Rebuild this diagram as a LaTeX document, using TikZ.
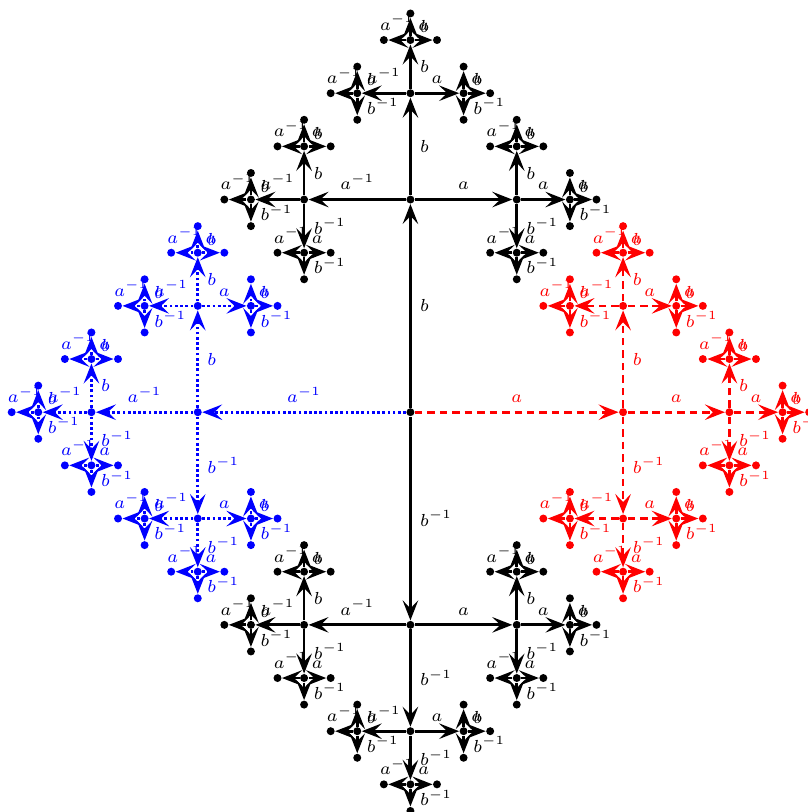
\documentclass[tikz,border=0pt]{standalone}
\usetikzlibrary{arrows.meta,calc}

% grow the tree out of node #1
% #2 = letter that would walk back, #3 = edge length,
% #4 = levels left, #5 = colour style of this side
\newcommand{\branch}[5]{%
  \ifnum#4>0
    \pgfmathsetmacro\sublen{#3/2}%
    \pgfmathtruncatemacro\subdepth{#4-1}%
    \foreach \gen/\back/\dx/\dy/\glab/\anc in {a/A/1/0/a/south, A/a/-1/0/a^{-1}/south, b/B/0/1/b/west, B/b/0/-1/b^{-1}/west}{%
      \edef\curgen{\gen}\edef\skipgen{#2}%
      \ifx\curgen\skipgen\else
        \node[vtx,#5] (#1\gen) at ($(#1)+(\dx*#3,\dy*#3)$) {};
        \draw[link,#5] (#1) -- node[elab,anchor=\anc] {$\glab$} (#1\gen);
        \edef\branchnext{\noexpand\branch{#1\gen}{\back}{\sublen}{\subdepth}{#5}}%
        \branchnext
      \fi
    }%
  \fi}

\begin{document}
\begin{tikzpicture}[
  vtx/.style={circle, fill, inner sep=0pt, minimum size=3.2pt},
  link/.style={line width=1.1pt, -{Stealth[length=8pt, width=6.2pt, inset=3.2pt]}},
  elab/.style={font=\scriptsize},
  redside/.style={red, densely dashed},
  blueside/.style={blue, densely dotted},
  blackside/.style={black}
]
\useasboundingbox (-5.79,-5.64) rectangle (5.60,5.815);

% =======================
% Root
% =======================
\node[vtx] (v) at (0,0) {};

% =======================
% a side (red)
% =======================
\node[vtx,redside] (va) at (3,0) {};
\draw[link,redside] (v) -- node[elab,anchor=south] {$a$} (va);
\branch{va}{A}{1.5}{3}{redside}

% =======================
% a^{-1} side (blue)
% =======================
\node[vtx,blueside] (vA) at (-3,0) {};
\draw[link,blueside] (v) -- node[elab,anchor=south] {$a^{-1}$} (vA);
\branch{vA}{a}{1.5}{3}{blueside}

% =======================
% b and b^{-1} sides (black)
% =======================
\node[vtx] (vb) at (0,3) {};
\draw[link,blackside] (v) -- node[elab,anchor=west] {$b$} (vb);
\branch{vb}{B}{1.5}{3}{blackside}

\node[vtx] (vB) at (0,-3) {};
\draw[link,blackside] (v) -- node[elab,anchor=west] {$b^{-1}$} (vB);
\branch{vB}{b}{1.5}{3}{blackside}
\end{tikzpicture}
\end{document}
